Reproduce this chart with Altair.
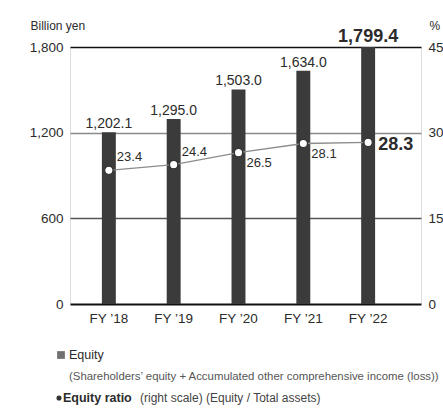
import altair as alt
import pandas as pd

years = ["FY \u201918", "FY \u201919", "FY \u201920", "FY \u201921", "FY \u201922"]
equity = [1202.1, 1295.0, 1503.0, 1634.0, 1799.4]
ratio = [23.4, 24.4, 26.5, 28.1, 28.3]
left_ticks = [0, 600, 1200, 1800]
right_ticks = [0, 15, 30, 45]
ratio_label_pos = ["above", "above", "below", "below", "right"]

FONT = "Liberation Sans"
TXT = "#2b2b2b"

df = pd.DataFrame({"year": years, "equity": equity, "ratio": ratio, "pos": ratio_label_pos})

xenc = alt.X("year:N", sort=years,
             scale=alt.Scale(paddingInner=0.785, paddingOuter=0.6, align=0.41),
             axis=alt.Axis(title=None, domain=False, ticks=False, labelAngle=0,
                           labelFontSize=13.5, labelColor=TXT, labelFont=FONT, labelPadding=7))

yleft = alt.Y("equity:Q", scale=alt.Scale(domain=[0, 1800], nice=False),
              axis=alt.Axis(values=left_ticks, format=",.0f", domain=False, ticks=False,
                            labelFontSize=13.5, labelColor=TXT, labelFont=FONT, labelPadding=7,
                            title="Billion yen", titleAngle=0, titleAlign="left",
                            titleBaseline="middle", titleX=-40, titleY=-22,
                            titleFont=FONT, titleFontSize=12, titleFontWeight="normal", titleColor=TXT,
                            grid=True,
                            gridColor={"condition": [{"test": "datum.value === 0", "value": "#111111"},
                                                     {"test": "datum.value === 1800", "value": "#111111"},
                                                     {"test": "datum.value === 1200", "value": "#8a8a8a"}],
                                       "value": "#555555"},
                            gridWidth={"condition": {"test": "datum.value === 0", "value": 2.2},
                                       "value": 1.3}))

yright = alt.Y("ratio:Q", scale=alt.Scale(domain=[0, 45], nice=False),
               axis=alt.Axis(values=right_ticks, orient="right", domain=False, ticks=False, grid=False,
                             labelFontSize=13.5, labelColor=TXT, labelFont=FONT, labelPadding=7,
                             title="%", titleAngle=0, titleAlign="left", titleBaseline="middle",
                             titleX=8, titleY=-22, titleFont=FONT, titleFontSize=12,
                             titleFontWeight="normal", titleColor=TXT))

base = alt.Chart(df)
xs = alt.X("year:N", sort=years)

bars = base.mark_bar(color="#3b3b3b").encode(x=xenc, y=yleft)

last = years[-1]
bar_text = base.transform_filter(alt.datum.year != last).mark_text(
    baseline="alphabetic", align="center", dy=-4, font=FONT, color=TXT, fontSize=14).encode(
    x=xs, y=alt.Y("equity:Q"), text=alt.Text("equity:Q", format=",.1f"))
bar_text_last = base.transform_filter(alt.datum.year == last).mark_text(
    baseline="alphabetic", align="center", dy=-5, font=FONT, color=TXT, fontSize=18, fontWeight="bold").encode(
    x=xs, y=alt.Y("equity:Q"), text=alt.Text("equity:Q", format=",.1f"))

left_layer = alt.layer(bars, bar_text, bar_text_last)

line = base.mark_line(color="#8c8c8c", strokeWidth=1.3).encode(x=xs, y=yright)
pts = base.mark_point(shape="circle", size=70, filled=True, fill="white", stroke="#333333",
                      strokeWidth=1.3, opacity=1).encode(x=xs, y=alt.Y("ratio:Q"))

def rlabel(pos, dx, dy, size, weight):
    return base.transform_filter(alt.datum.pos == pos).mark_text(
        align="left", baseline="middle", dx=dx, dy=dy, fontSize=size, fontWeight=weight,
        font=FONT, color=TXT).encode(
        x=xs, y=alt.Y("ratio:Q"), text=alt.Text("ratio:Q", format=".1f"))

right_layer = alt.layer(line, pts,
                        rlabel("above", 8, -13, 13, "normal"),
                        rlabel("below", 8, 10, 13, "normal"),
                        rlabel("right", 10, 3, 18, "bold"))

one = alt.Data(values=[{"a": 1}])
leg_sq = alt.Chart(one).mark_square(size=60, color="#333333").encode(x=alt.value(-9), y=alt.value(308))
leg_t1 = alt.Chart(one).mark_text(align="left", baseline="middle", fontSize=12.5, font=FONT, color=TXT,
                                  fontWeight="normal").encode(
    x=alt.value(-1), y=alt.value(308), text=alt.value("Equity"))
leg_t2 = alt.Chart(one).mark_text(align="left", baseline="middle", fontSize=11.4, font=FONT, color="#555555").encode(
    x=alt.value(-1), y=alt.value(330),
    text=alt.value("(Shareholders\u2019 equity + Accumulated other comprehensive income (loss))"))
leg_dot = alt.Chart(one).mark_circle(size=26, color="#333333", opacity=1).encode(x=alt.value(-11), y=alt.value(351))
leg_t3 = alt.Chart(one).mark_text(align="left", baseline="middle", fontSize=12.5, font=FONT, color=TXT,
                                  fontWeight="bold").encode(
    x=alt.value(-7), y=alt.value(351), text=alt.value("Equity ratio"))
leg_t4 = alt.Chart(one).mark_text(align="left", baseline="middle", fontSize=12, font=FONT, color="#444444").encode(
    x=alt.value(70), y=alt.value(351), text=alt.value("(right scale) (Equity / Total assets)"))

chart = alt.layer(left_layer, right_layer, leg_sq, leg_t1, leg_t2, leg_dot, leg_t3, leg_t4).resolve_scale(
    y="independent").properties(
    width=351, height=257,
    autosize=alt.AutoSizeParams(type="none"),
    padding={"left": 70, "top": 47, "right": 22, "bottom": 104},
).configure_view(stroke=None).configure(background="white")

chart.save("out.html", embed_options={"renderer": "svg", "actions": False})
